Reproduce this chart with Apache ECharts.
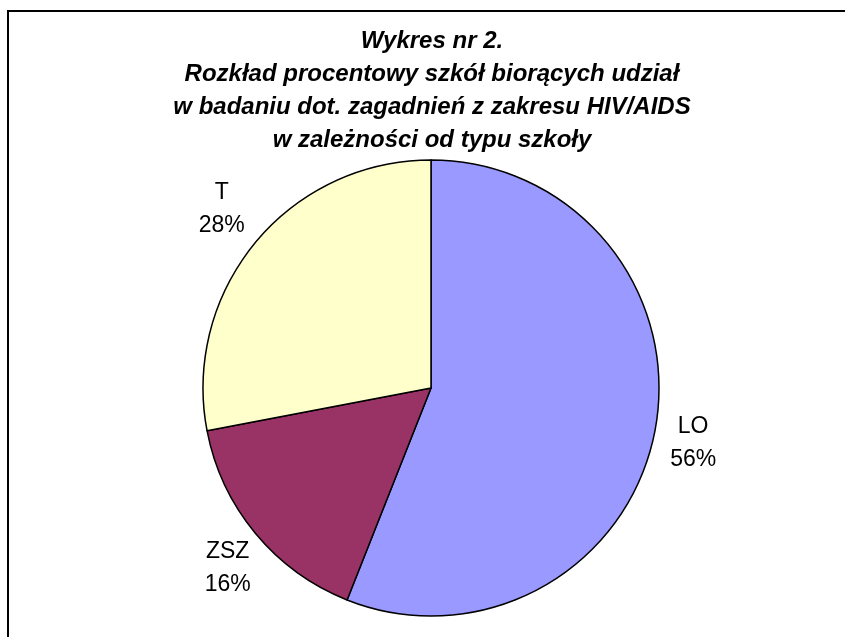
<!DOCTYPE html>
<html>
<head>
<meta charset="utf-8">
<script src="https://cdn.jsdelivr.net/npm/echarts@6/dist/echarts.min.js"></script>
<style>
html,body{margin:0;padding:0;background:#fff;}
#chart{width:845px;height:637px;}
</style>
</head>
<body>
<div id="chart"></div>
<script>
const categories = ['LO', 'ZSZ', 'T'];
const values = [56, 16, 28];
const colors = ['#9999FF', '#993366', '#FFFFCC'];
const titleLines = [
  'Wykres nr 2.',
  'Rozkład procentowy szkół biorących udział',
  'w badaniu dot. zagadnień z zakresu HIV/AIDS',
  'w zależności od typu szkoły'
];

// small per-label nudges (styling only)
const labelNudge = { LO: [-6, 4], ZSZ: [7, 6], T: [1, -5] };

const pieData = categories.map((c, i) => ({
  name: c, value: values[i], itemStyle: { color: colors[i] }
}));

const chart = echarts.init(document.getElementById('chart'), null, { renderer: 'canvas' });
chart.setOption({
  backgroundColor: '#ffffff',
  animation: false,
  title: {
    text: titleLines.join('\n'),
    left: 432,
    top: 25,
    textAlign: 'center',
    padding: 0,
    textStyle: {
      fontFamily: 'Liberation Sans, Arial, sans-serif',
      fontSize: 24,
      fontWeight: 'bold',
      fontStyle: 'italic',
      color: '#000',
      lineHeight: 33
    }
  },
  graphic: [{
    type: 'rect',
    z: -10,
    shape: { x: 8, y: 11, width: 900, height: 700 },
    style: { fill: 'none', stroke: '#000', lineWidth: 2 }
  }],
  series: [
    {
      type: 'pie',
      center: [431, 388],
      radius: [0, 228],
      startAngle: 90,
      clockwise: true,
      avoidLabelOverlap: false,
      silent: true,
      label: { show: false },
      labelLine: { show: false },
      itemStyle: { borderColor: '#000', borderWidth: 1.5 },
      data: pieData
    },
    {
      type: 'pie',
      center: [431, 388],
      radius: [240, 300],
      startAngle: 90,
      clockwise: true,
      avoidLabelOverlap: false,
      silent: true,
      itemStyle: { color: 'rgba(0,0,0,0)', borderWidth: 0 },
      labelLine: { show: false },
      label: {
        show: true,
        position: 'inside',
        formatter: p => p.name + '\n' + p.value + '%',
        fontFamily: 'Liberation Sans, Arial, sans-serif',
        fontSize: 23,
        lineHeight: 33,
        color: '#000',
        align: 'center'
      },
      data: categories.map((c, i) => ({
        name: c, value: values[i],
        label: { offset: labelNudge[c] }
      }))
    }
  ]
});
</script>
</body>
</html>
